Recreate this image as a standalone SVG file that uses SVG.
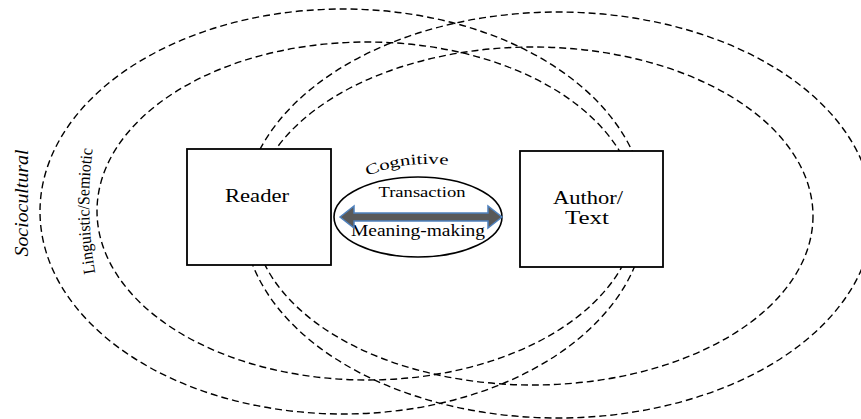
<svg xmlns="http://www.w3.org/2000/svg" width="861" height="419" viewBox="0 0 861 419">
  <style>
    .ring { fill: none; stroke: #000; stroke-width: 1.4; stroke-dasharray: 7 4; }
    .box { fill: #fff; stroke: #000; stroke-width: 1.8; }
    text { font-family: 'Liberation Serif', 'Times New Roman', serif; fill: #000; }
  </style>
  <defs>
    <path id="cogPath" d="M 364 178 A 96 54 0 0 1 456 166"/>
    <path id="lingPath" d="M 98 288 Q 82 210 95 134"/>
  </defs>
  <rect width="861" height="419" fill="#fff"/>

  <g id="rings">
    <ellipse id="ring-sociocultural-left" class="ring" cx="343" cy="211.5" rx="303" ry="202.5"/>
    <ellipse id="ring-linguistic-left" class="ring" cx="367" cy="211" rx="270" ry="169"/>
    <ellipse id="ring-sociocultural-right" class="ring" cx="558" cy="215" rx="315" ry="203"/>
    <ellipse id="ring-linguistic-right" class="ring" cx="533" cy="216" rx="280" ry="169"/>
  </g>

  <g id="label-sociocultural">
    <text font-family="Liberation Serif, serif" font-size="18" font-style="italic" text-anchor="middle" textLength="107" lengthAdjust="spacingAndGlyphs" transform="translate(28,203) rotate(-90)">Sociocultural</text>
  </g>
  <g id="label-linguistic">
    <text font-family="Liberation Serif, serif" font-size="17" text-anchor="middle"><textPath href="#lingPath" startOffset="50%" textLength="125" lengthAdjust="spacingAndGlyphs">Linguistic/Semiotic</textPath></text>
  </g>

  <g id="reader">
    <rect class="box" x="187" y="149" width="144" height="116"/>
    <text font-family="Liberation Serif, serif" x="257" y="202" font-size="19" text-anchor="middle" textLength="64" lengthAdjust="spacingAndGlyphs">Reader</text>
  </g>

  <g id="author-text">
    <rect class="box" x="520" y="151" width="143" height="116"/>
    <text font-family="Liberation Serif, serif" x="588" y="204" font-size="19" text-anchor="middle" textLength="70" lengthAdjust="spacingAndGlyphs">Author/</text>
    <text font-family="Liberation Serif, serif" x="587" y="224" font-size="19" text-anchor="middle" textLength="44" lengthAdjust="spacingAndGlyphs">Text</text>
  </g>

  <g id="transaction">
    <ellipse cx="418" cy="217" rx="84" ry="40" fill="#fff" stroke="#000" stroke-width="1.6"/>
    <text font-family="Liberation Serif, serif" font-size="15"><textPath href="#cogPath" startOffset="4" textLength="82" lengthAdjust="spacingAndGlyphs">Cognitive</textPath></text>
    <text font-family="Liberation Serif, serif" x="422" y="197" font-size="15" text-anchor="middle" textLength="87" lengthAdjust="spacingAndGlyphs">Transaction</text>
    <text font-family="Liberation Serif, serif" x="418" y="236" font-size="16" text-anchor="middle" textLength="134" lengthAdjust="spacingAndGlyphs">Meaning-making</text>
  </g>

  <g id="connectors">
    <path id="arrow-reader-author" d="M 340 217 L 354 206 L 354 213 L 488 213 L 488 206 L 502 217 L 488 228 L 488 221 L 354 221 L 354 228 Z" fill="#595959" stroke="#4F81BD" stroke-width="1.5"/>
  </g>
</svg>
